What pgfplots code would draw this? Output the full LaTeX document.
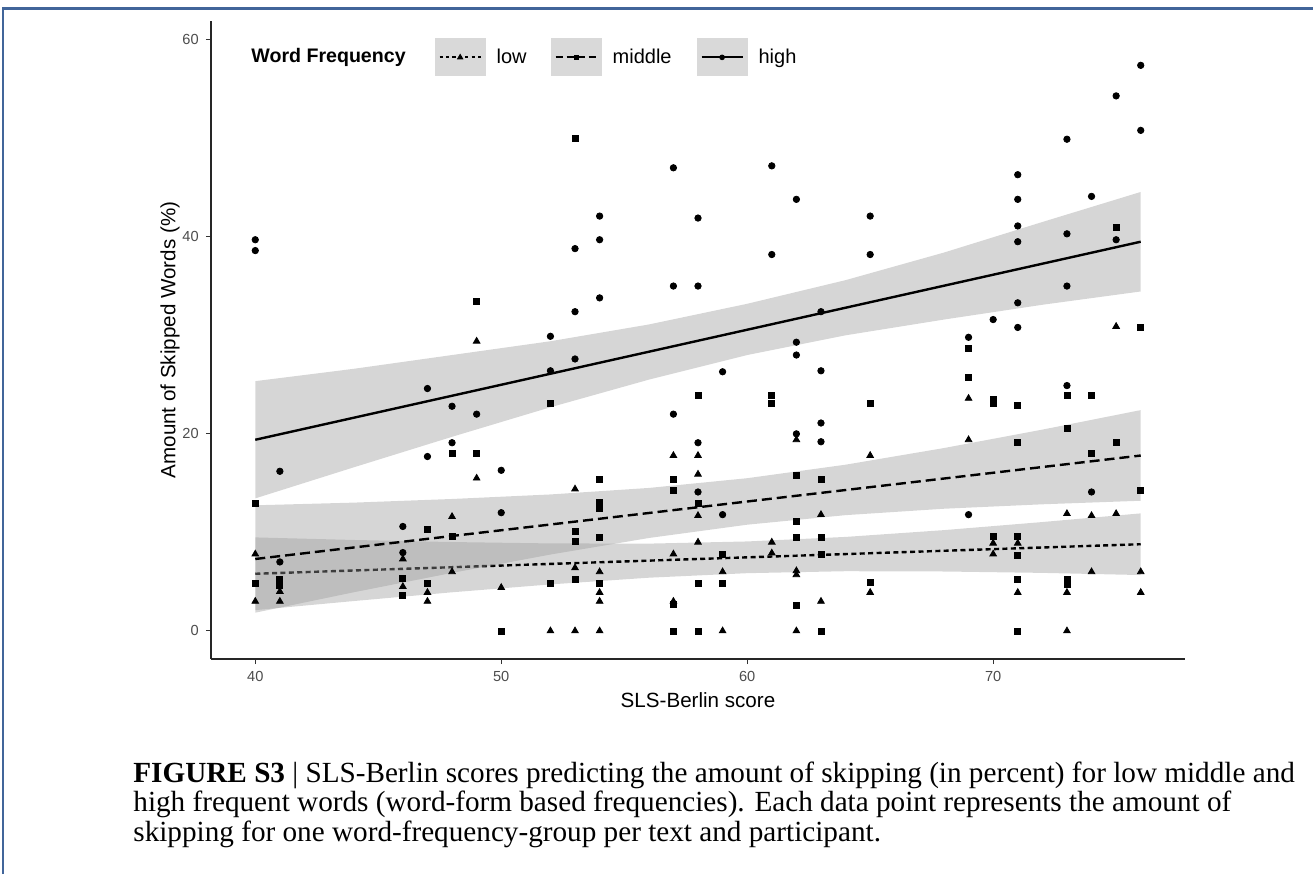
\documentclass[border=0pt]{standalone}
\usepackage{fontspec}
\setmainfont{Liberation Sans}
\newfontfamily\capfont{Liberation Serif}
\usepackage{pgfplots}
\pgfplotsset{compat=1.18}
\definecolor{frameblue}{HTML}{41659A}
\definecolor{keygray}{HTML}{D9D9D9}

\begin{document}
\begin{tikzpicture}
\useasboundingbox (0,0) rectangle (656.5pt,437pt);
% frame of the figure box
\draw[frameblue, line width=1.2pt] (1.5pt,0pt) -- (1.5pt,432.8pt) -- (656.5pt,432.8pt);

\begin{axis}[
    at={(105.5pt,107.5pt)}, anchor=south west,
    scale only axis, width=487pt, height=319pt,
    xmin=38.2, xmax=77.8, ymin=-2.85, ymax=61.9,
    axis lines=left,
    axis line style={-, black!85, line width=0.6pt},
    xtick={40,50,60,70}, ytick={0,20,40,60},
    tick align=outside, major tick length=2.6pt,
    tick style={black!80, line width=0.5pt},
    /pgf/number format/assume math mode=true,
    ticklabel style={font=\fontsize{7.3}{8}\selectfont, text=black!70},
    xlabel={SLS-Berlin score},
    ylabel={Amount of Skipped Words (\%)},
    label style={font=\fontsize{10.3}{12}\selectfont},
    xlabel style={at={(axis description cs:0.5,-0.0643)}, anchor=center},
    ylabel style={at={(axis description cs:-0.0421,0.5)}, anchor=center},
    legend columns=-1,
    legend style={at={(axis description cs:0.0236,0.943)}, anchor=west,
        draw=none, fill=none, font=\fontsize{10}{12}\selectfont,
        nodes={inner sep=0pt},
        /tikz/every odd column/.append style={column sep=5.5pt},
        /tikz/column 2/.append style={column sep=14.5pt},
        /tikz/column 4/.append style={column sep=12pt},
        /tikz/column 6/.append style={column sep=12.5pt}},
    legend image code/.code={
        \path[fill=keygray, draw=none] (0pt,-9.5pt) rectangle (25.5pt,9.5pt);
        \draw[#1, mark=none, line width=1pt] (2.5pt,0pt) -- (23pt,0pt);
        \draw[#1, only marks] plot coordinates {(12.75pt,0pt)};
    },
]

% legend entries
\addlegendimage{empty legend}
\addlegendentry{\fontsize{9.8}{11}\selectfont\bfseries Word Frequency}
\addlegendimage{black, dash pattern=on 1.6pt off 1.6pt, mark=triangle*, mark size=1.5pt, mark options={solid}}
\addlegendentry{low}
\addlegendimage{black, dash pattern=on 3.5pt off 2pt, mark=square*, mark size=1.1pt, mark options={solid}}
\addlegendentry{middle}
\addlegendimage{black, mark=*, mark size=1.2pt}
\addlegendentry{high}

% high frequency words
\addplot[forget plot, only marks, mark=*, mark size=1.6pt, black] coordinates {
(40,39.7) (40,38.6) (41,16.2) (41,7.0) (46,10.6) (46,7.95) (47,24.6) (47,17.7)
(48,22.8) (48,19.1) (49,22.0) (50,16.3) (50,12.0) (52,29.9) (52,26.4) (53,38.8)
(53,32.4) (53,27.6) (54,42.1) (54,39.7) (54,33.8) (57,47.0) (57,35.0) (57,22.0)
(58,41.9) (58,35.0) (58,19.1) (58,14.1) (59,26.3) (59,11.8) (61,47.2) (61,38.2)
(62,43.8) (62,29.3) (62,28.0) (62,20.0) (63,32.4) (63,26.4) (63,21.1) (63,19.2)
(65,42.1) (65,38.2) (69,29.8) (69,11.8) (70,31.6) (71,46.3) (71,43.8) (71,41.1)
(71,39.5) (71,33.3) (71,30.8) (73,49.9) (73,40.3) (73,35.0) (73,24.9) (74,44.1)
(74,14.1) (75,54.3) (75,39.7) (76,57.4) (76,50.8)
};
% middle frequency words
\addplot[forget plot, only marks, mark=square*, mark size=1.5pt, black] coordinates {
(40,12.9) (40,4.8) (41,5.2) (41,4.6) (46,5.3) (46,3.6) (47,10.3) (47,4.8)
(48,18.0) (48,9.6) (49,33.4) (49,18.0) (50,0) (52,23.1) (52,4.8) (53,50.0)
(53,10.1) (53,9.1) (53,5.2) (54,15.4) (54,13.0) (54,12.4) (54,9.5) (54,4.8)
(57,15.4) (57,14.3) (57,2.7) (57,0) (58,23.9) (58,12.9) (58,4.8) (58,0)
(59,7.8) (59,4.8) (61,23.9) (61,23.1) (62,15.8) (62,11.1) (62,9.5) (62,2.6)
(63,15.4) (63,9.5) (63,7.8) (63,0) (65,23.1) (65,4.9) (69,28.7) (69,25.7)
(70,23.5) (70,23.1) (70,9.6) (71,22.9) (71,19.1) (71,9.6) (71,7.7) (71,5.2)
(71,0) (73,23.9) (73,20.6) (73,5.2) (73,4.7) (74,23.9) (74,18.0) (75,41.0)
(75,19.1) (76,30.8) (76,14.3)
};
% low frequency words
\addplot[forget plot, only marks, mark=triangle*, mark size=1.9pt, black] coordinates {
(40,7.8) (40,3.0) (41,4.0) (41,3.0) (46,7.3) (46,4.5) (47,3.9) (47,3.0)
(48,11.6) (48,6.0) (49,29.4) (49,15.5) (50,4.4) (52,0) (53,14.4) (53,6.4)
(53,0) (54,6.0) (54,3.9) (54,3.0) (54,0) (57,17.8) (57,7.8) (57,3.0)
(58,17.8) (58,15.9) (58,11.7) (58,9.0) (59,6.0) (59,0) (61,9.0) (61,7.9)
(62,19.4) (62,6.1) (62,5.7) (62,0) (63,11.8) (63,3.0) (65,17.8) (65,3.9)
(69,23.6) (69,19.4) (70,8.9) (70,7.8) (71,8.9) (71,3.9) (73,11.9) (73,3.9)
(73,0) (74,11.7) (74,6.0) (75,30.9) (75,11.9) (76,6.0) (76,3.9)
};

% low: confidence band and fit
\addplot[forget plot, draw=none, fill=black!40, fill opacity=0.4] coordinates {
(40,9.49) (44,9.23) (48,9.02) (52,8.88) (56,8.86) (60,9.08) (64,9.54) (68,10.23) (72,11.05) (76,11.93)
(76,5.67) (72,5.89) (68,6.03) (64,6.06) (60,5.86) (56,5.40) (52,4.72) (48,3.92) (44,3.03) (40,2.11)
} -- cycle;
\addplot[forget plot, black, line width=1.2pt, dash pattern=on 2.5pt off 1.7pt] coordinates {(40,5.8) (76,8.8)};

% middle: confidence band and fit
\addplot[forget plot, draw=none, fill=black!40, fill opacity=0.4] coordinates {
(40,12.75) (44,13.02) (48,13.39) (52,13.85) (56,14.51) (60,15.50) (64,16.87) (68,18.56) (72,20.43) (76,22.41)
(76,13.21) (72,12.85) (68,12.40) (64,11.75) (60,10.78) (56,9.43) (52,7.75) (48,5.89) (44,3.92) (40,1.85)
} -- cycle;
\addplot[forget plot, black, line width=1.2pt, dash pattern=on 5pt off 2.5pt] coordinates {(40,7.3) (76,17.8)};

% high: confidence band and fit
\addplot[forget plot, draw=none, fill=black!40, fill opacity=0.4] coordinates {
(40,25.35) (44,26.6) (48,28.0) (52,29.4) (56,31.1) (60,33.2) (64,35.6) (68,38.4) (72,41.5) (76,44.55)
(76,34.45) (72,33.1) (68,31.6) (64,30.0) (60,28.0) (56,25.5) (52,22.7) (48,19.7) (44,16.6) (40,13.45)
} -- cycle;
\addplot[forget plot, black, line width=1.2pt] coordinates {(40,19.4) (76,39.5)};
\end{axis}

% caption
\begin{scope}[every node/.style={anchor=base west, inner sep=0pt, font=\capfont\fontsize{14.6}{14.75}\selectfont}]
\node at (66.5pt,46pt) {\textbf{FIGURE S3} | SLS-Berlin scores predicting the amount of skipping (in percent) for low middle and};
\node at (66.5pt,31.25pt) {high frequent words (word-form based frequencies). Each data point represents the amount of};
\node at (66.5pt,16.5pt) {skipping for one word-frequency-group per text and participant.};
\end{scope}
\end{tikzpicture}
\end{document}
